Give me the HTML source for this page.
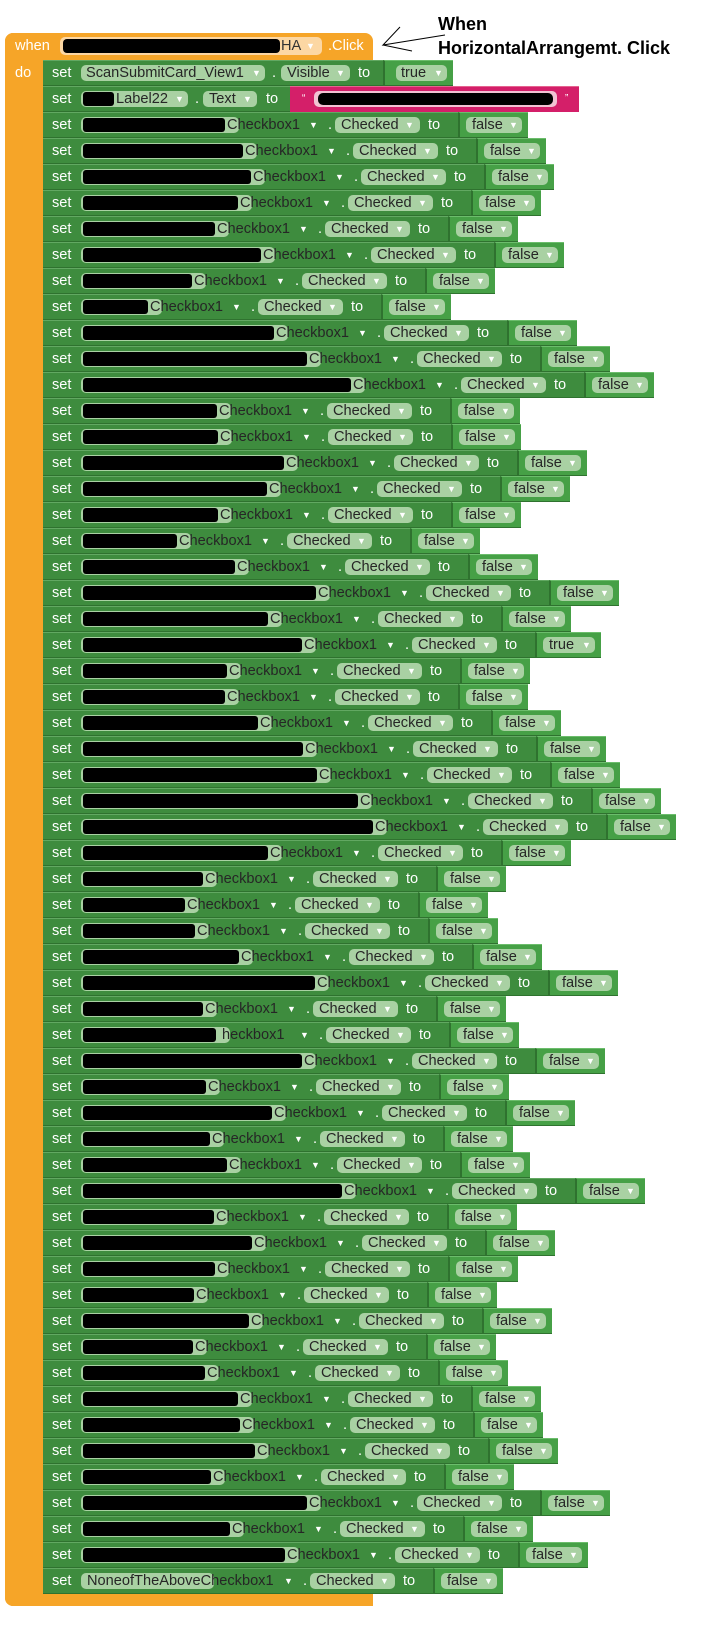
<!DOCTYPE html>
<html><head><meta charset="utf-8"><style>
*{margin:0;padding:0;box-sizing:border-box}
body{width:702px;height:1633px;background:#fff;position:relative;overflow:hidden;font-family:"Liberation Sans",Arial,sans-serif;font-size:14.6px}
.o{position:absolute;background:#f6a528}
.r{position:absolute;left:0;height:26px;width:702px}
.r>*{position:absolute;line-height:26px;top:0;white-space:nowrap;font-style:normal;font-weight:normal}
.g{left:43px;height:26px;background:#3e8c3e;border-top:1px solid #62a862;border-bottom:1px solid #2f722f;width:calc(var(--s) + 192px)}
.st{left:52px;color:#fff}
.p{top:5px!important;height:16px;background:#a9d1a3;border-radius:5px}
.np{left:81px;width:calc(var(--s) - 67px)}
.bk{left:83px;top:6px!important;height:14px;background:#000;border-radius:3px;width:calc(var(--s) - 83px)}
.t{color:#262626}
.a{color:#fff;font-size:9px}
.w{color:#fff}
.cb{left:calc(var(--s) + 2px)}
.ca{left:calc(var(--s) + 84px)}
.d{left:calc(var(--s) + 103px)}
.cp{left:calc(var(--s) + 110px);width:85px}
.ct{left:calc(var(--s) + 116px)}
.cpa{left:calc(var(--s) + 180px)}
.to{left:calc(var(--s) + 203px)}
.v{left:calc(var(--s) + 233px);width:70px;height:26px;background:#46a046;border-top:1px solid #6cbd6c;border-bottom:1px solid #2f722f;border-left:2px solid #2f722f}
.fp{left:calc(var(--s) + 241px);width:56px}
.ft{left:calc(var(--s) + 247px)}
.fa{left:calc(var(--s) + 284px)}
</style></head><body>
<div class="o" style="left:5px;top:33px;width:368px;height:27px;border-radius:8px 8px 0 0"></div>
<div class="o" style="left:5px;top:33px;width:38px;height:1573px;border-radius:8px 0 0 8px"></div>
<div class="o" style="left:5px;top:1594px;width:368px;height:12px;border-radius:0 0 0 8px"></div>
<div style="position:absolute;left:15px;top:33px;line-height:26px;color:#fff">when</div>
<div style="position:absolute;left:15px;top:60px;line-height:26px;color:#fff">do</div>
<div style="position:absolute;left:60px;top:37px;width:262px;height:18px;background:#fcd7a3;border-radius:5px"></div>
<div style="position:absolute;left:63px;top:39px;width:217px;height:14px;background:#000;border-radius:4px"></div>
<div style="position:absolute;left:281px;top:33px;line-height:26px;color:#333">HA</div>
<div style="position:absolute;left:306px;top:33px;line-height:26px;color:#fff;font-size:9px">▼</div>
<div style="position:absolute;left:328px;top:33px;line-height:26px;color:#fff">.Click</div>
<div style="position:absolute;left:438px;top:12px;font-weight:bold;font-size:18px;line-height:24px;color:#000">When<br>HorizontalArrangemt. Click</div>
<svg style="position:absolute;left:0;top:0" width="702" height="70"><path d="M400,27 L383,45 L445,35 M383,45 L412,51" fill="none" stroke="#000" stroke-width="1"/></svg>

<div class="r" style="top:60px;--s:200px"><i class="g" style="width:350px"></i><i class="st">set</i><i class="p" style="left:81px;width:184px"></i><i class="t" style="left:86px">ScanSubmitCard_View1</i><i class="a" style="left:252px">▼</i><i class="w" style="left:272px">.</i><i class="p" style="left:281px;width:69px"></i><i class="t" style="left:287px">Visible</i><i class="a" style="left:336px">▼</i><i class="w" style="left:358px">to</i><i class="v" style="left:383px"></i><i class="p" style="left:396px;width:51px"></i><i class="t" style="left:401px">true</i><i class="a" style="left:434px">▼</i></div>
<div class="r" style="top:86px;--s:114px"><i class="g" style="width:260px"></i><i class="st">set</i><i class="p" style="left:81px;width:107px"></i><i class="bk"></i><i class="t" style="left:116px">Label22</i><i class="a" style="left:175px">▼</i><i class="w" style="left:195px">.</i><i class="p" style="left:203px;width:54px"></i><i class="t" style="left:209px">Text</i><i class="a" style="left:243px">▼</i><i class="w" style="left:266px">to</i><i style="left:290px;width:289px;height:26px;background:#d41f69;border-top:1px solid #e5638f"></i><i class="w" style="left:302px;font-size:10px">“</i><i class="p" style="left:314px;width:243px;background:#f1c3d3"></i><i style="left:318px;top:7px;width:235px;height:12px;background:#000;border-radius:5px"></i><i class="w" style="left:565px;font-size:10px">”</i></div>

<div class="r" style="top:112px;--s:225px"><i class="g"></i><i class="st">set</i><i class="p np"></i><i class="bk"></i><i class="t cb">Checkbox1</i><i class="a ca">▼</i><i class="w d">.</i><i class="p cp"></i><i class="t ct">Checked</i><i class="a cpa">▼</i><i class="w to">to</i><i class="v"></i><i class="p fp"></i><i class="t ft">false</i><i class="a fa">▼</i></div>
<div class="r" style="top:138px;--s:243px"><i class="g"></i><i class="st">set</i><i class="p np"></i><i class="bk"></i><i class="t cb">Checkbox1</i><i class="a ca">▼</i><i class="w d">.</i><i class="p cp"></i><i class="t ct">Checked</i><i class="a cpa">▼</i><i class="w to">to</i><i class="v"></i><i class="p fp"></i><i class="t ft">false</i><i class="a fa">▼</i></div>
<div class="r" style="top:164px;--s:251px"><i class="g"></i><i class="st">set</i><i class="p np"></i><i class="bk"></i><i class="t cb">Checkbox1</i><i class="a ca">▼</i><i class="w d">.</i><i class="p cp"></i><i class="t ct">Checked</i><i class="a cpa">▼</i><i class="w to">to</i><i class="v"></i><i class="p fp"></i><i class="t ft">false</i><i class="a fa">▼</i></div>
<div class="r" style="top:190px;--s:238px"><i class="g"></i><i class="st">set</i><i class="p np"></i><i class="bk"></i><i class="t cb">Checkbox1</i><i class="a ca">▼</i><i class="w d">.</i><i class="p cp"></i><i class="t ct">Checked</i><i class="a cpa">▼</i><i class="w to">to</i><i class="v"></i><i class="p fp"></i><i class="t ft">false</i><i class="a fa">▼</i></div>
<div class="r" style="top:216px;--s:215px"><i class="g"></i><i class="st">set</i><i class="p np"></i><i class="bk"></i><i class="t cb">Checkbox1</i><i class="a ca">▼</i><i class="w d">.</i><i class="p cp"></i><i class="t ct">Checked</i><i class="a cpa">▼</i><i class="w to">to</i><i class="v"></i><i class="p fp"></i><i class="t ft">false</i><i class="a fa">▼</i></div>
<div class="r" style="top:242px;--s:261px"><i class="g"></i><i class="st">set</i><i class="p np"></i><i class="bk"></i><i class="t cb">Checkbox1</i><i class="a ca">▼</i><i class="w d">.</i><i class="p cp"></i><i class="t ct">Checked</i><i class="a cpa">▼</i><i class="w to">to</i><i class="v"></i><i class="p fp"></i><i class="t ft">false</i><i class="a fa">▼</i></div>
<div class="r" style="top:268px;--s:192px"><i class="g"></i><i class="st">set</i><i class="p np"></i><i class="bk"></i><i class="t cb">Checkbox1</i><i class="a ca">▼</i><i class="w d">.</i><i class="p cp"></i><i class="t ct">Checked</i><i class="a cpa">▼</i><i class="w to">to</i><i class="v"></i><i class="p fp"></i><i class="t ft">false</i><i class="a fa">▼</i></div>
<div class="r" style="top:294px;--s:148px"><i class="g"></i><i class="st">set</i><i class="p np"></i><i class="bk"></i><i class="t cb">Checkbox1</i><i class="a ca">▼</i><i class="w d">.</i><i class="p cp"></i><i class="t ct">Checked</i><i class="a cpa">▼</i><i class="w to">to</i><i class="v"></i><i class="p fp"></i><i class="t ft">false</i><i class="a fa">▼</i></div>
<div class="r" style="top:320px;--s:274px"><i class="g"></i><i class="st">set</i><i class="p np"></i><i class="bk"></i><i class="t cb">Checkbox1</i><i class="a ca">▼</i><i class="w d">.</i><i class="p cp"></i><i class="t ct">Checked</i><i class="a cpa">▼</i><i class="w to">to</i><i class="v"></i><i class="p fp"></i><i class="t ft">false</i><i class="a fa">▼</i></div>
<div class="r" style="top:346px;--s:307px"><i class="g"></i><i class="st">set</i><i class="p np"></i><i class="bk"></i><i class="t cb">Checkbox1</i><i class="a ca">▼</i><i class="w d">.</i><i class="p cp"></i><i class="t ct">Checked</i><i class="a cpa">▼</i><i class="w to">to</i><i class="v"></i><i class="p fp"></i><i class="t ft">false</i><i class="a fa">▼</i></div>
<div class="r" style="top:372px;--s:351px"><i class="g"></i><i class="st">set</i><i class="p np"></i><i class="bk"></i><i class="t cb">Checkbox1</i><i class="a ca">▼</i><i class="w d">.</i><i class="p cp"></i><i class="t ct">Checked</i><i class="a cpa">▼</i><i class="w to">to</i><i class="v"></i><i class="p fp"></i><i class="t ft">false</i><i class="a fa">▼</i></div>
<div class="r" style="top:398px;--s:217px"><i class="g"></i><i class="st">set</i><i class="p np"></i><i class="bk"></i><i class="t cb">Checkbox1</i><i class="a ca">▼</i><i class="w d">.</i><i class="p cp"></i><i class="t ct">Checked</i><i class="a cpa">▼</i><i class="w to">to</i><i class="v"></i><i class="p fp"></i><i class="t ft">false</i><i class="a fa">▼</i></div>
<div class="r" style="top:424px;--s:218px"><i class="g"></i><i class="st">set</i><i class="p np"></i><i class="bk"></i><i class="t cb">Checkbox1</i><i class="a ca">▼</i><i class="w d">.</i><i class="p cp"></i><i class="t ct">Checked</i><i class="a cpa">▼</i><i class="w to">to</i><i class="v"></i><i class="p fp"></i><i class="t ft">false</i><i class="a fa">▼</i></div>
<div class="r" style="top:450px;--s:284px"><i class="g"></i><i class="st">set</i><i class="p np"></i><i class="bk"></i><i class="t cb">Checkbox1</i><i class="a ca">▼</i><i class="w d">.</i><i class="p cp"></i><i class="t ct">Checked</i><i class="a cpa">▼</i><i class="w to">to</i><i class="v"></i><i class="p fp"></i><i class="t ft">false</i><i class="a fa">▼</i></div>
<div class="r" style="top:476px;--s:267px"><i class="g"></i><i class="st">set</i><i class="p np"></i><i class="bk"></i><i class="t cb">Checkbox1</i><i class="a ca">▼</i><i class="w d">.</i><i class="p cp"></i><i class="t ct">Checked</i><i class="a cpa">▼</i><i class="w to">to</i><i class="v"></i><i class="p fp"></i><i class="t ft">false</i><i class="a fa">▼</i></div>
<div class="r" style="top:502px;--s:218px"><i class="g"></i><i class="st">set</i><i class="p np"></i><i class="bk"></i><i class="t cb">Checkbox1</i><i class="a ca">▼</i><i class="w d">.</i><i class="p cp"></i><i class="t ct">Checked</i><i class="a cpa">▼</i><i class="w to">to</i><i class="v"></i><i class="p fp"></i><i class="t ft">false</i><i class="a fa">▼</i></div>
<div class="r" style="top:528px;--s:177px"><i class="g"></i><i class="st">set</i><i class="p np"></i><i class="bk"></i><i class="t cb">Checkbox1</i><i class="a ca">▼</i><i class="w d">.</i><i class="p cp"></i><i class="t ct">Checked</i><i class="a cpa">▼</i><i class="w to">to</i><i class="v"></i><i class="p fp"></i><i class="t ft">false</i><i class="a fa">▼</i></div>
<div class="r" style="top:554px;--s:235px"><i class="g"></i><i class="st">set</i><i class="p np"></i><i class="bk"></i><i class="t cb">Checkbox1</i><i class="a ca">▼</i><i class="w d">.</i><i class="p cp"></i><i class="t ct">Checked</i><i class="a cpa">▼</i><i class="w to">to</i><i class="v"></i><i class="p fp"></i><i class="t ft">false</i><i class="a fa">▼</i></div>
<div class="r" style="top:580px;--s:316px"><i class="g"></i><i class="st">set</i><i class="p np"></i><i class="bk"></i><i class="t cb">Checkbox1</i><i class="a ca">▼</i><i class="w d">.</i><i class="p cp"></i><i class="t ct">Checked</i><i class="a cpa">▼</i><i class="w to">to</i><i class="v"></i><i class="p fp"></i><i class="t ft">false</i><i class="a fa">▼</i></div>
<div class="r" style="top:606px;--s:268px"><i class="g"></i><i class="st">set</i><i class="p np"></i><i class="bk"></i><i class="t cb">Checkbox1</i><i class="a ca">▼</i><i class="w d">.</i><i class="p cp"></i><i class="t ct">Checked</i><i class="a cpa">▼</i><i class="w to">to</i><i class="v"></i><i class="p fp"></i><i class="t ft">false</i><i class="a fa">▼</i></div>
<div class="r" style="top:632px;--s:302px"><i class="g"></i><i class="st">set</i><i class="p np"></i><i class="bk"></i><i class="t cb">Checkbox1</i><i class="a ca">▼</i><i class="w d">.</i><i class="p cp"></i><i class="t ct">Checked</i><i class="a cpa">▼</i><i class="w to">to</i><i class="v" style="width:66px"></i><i class="p fp" style="width:52px"></i><i class="t ft">true</i><i class="a fa" style="left:calc(var(--s) + 280px)">▼</i></div>
<div class="r" style="top:658px;--s:227px"><i class="g"></i><i class="st">set</i><i class="p np"></i><i class="bk"></i><i class="t cb">Checkbox1</i><i class="a ca">▼</i><i class="w d">.</i><i class="p cp"></i><i class="t ct">Checked</i><i class="a cpa">▼</i><i class="w to">to</i><i class="v"></i><i class="p fp"></i><i class="t ft">false</i><i class="a fa">▼</i></div>
<div class="r" style="top:684px;--s:225px"><i class="g"></i><i class="st">set</i><i class="p np"></i><i class="bk"></i><i class="t cb">Checkbox1</i><i class="a ca">▼</i><i class="w d">.</i><i class="p cp"></i><i class="t ct">Checked</i><i class="a cpa">▼</i><i class="w to">to</i><i class="v"></i><i class="p fp"></i><i class="t ft">false</i><i class="a fa">▼</i></div>
<div class="r" style="top:710px;--s:258px"><i class="g"></i><i class="st">set</i><i class="p np"></i><i class="bk"></i><i class="t cb">Checkbox1</i><i class="a ca">▼</i><i class="w d">.</i><i class="p cp"></i><i class="t ct">Checked</i><i class="a cpa">▼</i><i class="w to">to</i><i class="v"></i><i class="p fp"></i><i class="t ft">false</i><i class="a fa">▼</i></div>
<div class="r" style="top:736px;--s:303px"><i class="g"></i><i class="st">set</i><i class="p np"></i><i class="bk"></i><i class="t cb">Checkbox1</i><i class="a ca">▼</i><i class="w d">.</i><i class="p cp"></i><i class="t ct">Checked</i><i class="a cpa">▼</i><i class="w to">to</i><i class="v"></i><i class="p fp"></i><i class="t ft">false</i><i class="a fa">▼</i></div>
<div class="r" style="top:762px;--s:317px"><i class="g"></i><i class="st">set</i><i class="p np"></i><i class="bk"></i><i class="t cb">Checkbox1</i><i class="a ca">▼</i><i class="w d">.</i><i class="p cp"></i><i class="t ct">Checked</i><i class="a cpa">▼</i><i class="w to">to</i><i class="v"></i><i class="p fp"></i><i class="t ft">false</i><i class="a fa">▼</i></div>
<div class="r" style="top:788px;--s:358px"><i class="g"></i><i class="st">set</i><i class="p np"></i><i class="bk"></i><i class="t cb">Checkbox1</i><i class="a ca">▼</i><i class="w d">.</i><i class="p cp"></i><i class="t ct">Checked</i><i class="a cpa">▼</i><i class="w to">to</i><i class="v"></i><i class="p fp"></i><i class="t ft">false</i><i class="a fa">▼</i></div>
<div class="r" style="top:814px;--s:373px"><i class="g"></i><i class="st">set</i><i class="p np"></i><i class="bk"></i><i class="t cb">Checkbox1</i><i class="a ca">▼</i><i class="w d">.</i><i class="p cp"></i><i class="t ct">Checked</i><i class="a cpa">▼</i><i class="w to">to</i><i class="v"></i><i class="p fp"></i><i class="t ft">false</i><i class="a fa">▼</i></div>
<div class="r" style="top:840px;--s:268px"><i class="g"></i><i class="st">set</i><i class="p np"></i><i class="bk"></i><i class="t cb">Checkbox1</i><i class="a ca">▼</i><i class="w d">.</i><i class="p cp"></i><i class="t ct">Checked</i><i class="a cpa">▼</i><i class="w to">to</i><i class="v"></i><i class="p fp"></i><i class="t ft">false</i><i class="a fa">▼</i></div>
<div class="r" style="top:866px;--s:203px"><i class="g"></i><i class="st">set</i><i class="p np"></i><i class="bk"></i><i class="t cb">Checkbox1</i><i class="a ca">▼</i><i class="w d">.</i><i class="p cp"></i><i class="t ct">Checked</i><i class="a cpa">▼</i><i class="w to">to</i><i class="v"></i><i class="p fp"></i><i class="t ft">false</i><i class="a fa">▼</i></div>
<div class="r" style="top:892px;--s:185px"><i class="g"></i><i class="st">set</i><i class="p np"></i><i class="bk"></i><i class="t cb">Checkbox1</i><i class="a ca">▼</i><i class="w d">.</i><i class="p cp"></i><i class="t ct">Checked</i><i class="a cpa">▼</i><i class="w to">to</i><i class="v"></i><i class="p fp"></i><i class="t ft">false</i><i class="a fa">▼</i></div>
<div class="r" style="top:918px;--s:195px"><i class="g"></i><i class="st">set</i><i class="p np"></i><i class="bk"></i><i class="t cb">Checkbox1</i><i class="a ca">▼</i><i class="w d">.</i><i class="p cp"></i><i class="t ct">Checked</i><i class="a cpa">▼</i><i class="w to">to</i><i class="v"></i><i class="p fp"></i><i class="t ft">false</i><i class="a fa">▼</i></div>
<div class="r" style="top:944px;--s:239px"><i class="g"></i><i class="st">set</i><i class="p np"></i><i class="bk"></i><i class="t cb">Checkbox1</i><i class="a ca">▼</i><i class="w d">.</i><i class="p cp"></i><i class="t ct">Checked</i><i class="a cpa">▼</i><i class="w to">to</i><i class="v"></i><i class="p fp"></i><i class="t ft">false</i><i class="a fa">▼</i></div>
<div class="r" style="top:970px;--s:315px"><i class="g"></i><i class="st">set</i><i class="p np"></i><i class="bk"></i><i class="t cb">Checkbox1</i><i class="a ca">▼</i><i class="w d">.</i><i class="p cp"></i><i class="t ct">Checked</i><i class="a cpa">▼</i><i class="w to">to</i><i class="v"></i><i class="p fp"></i><i class="t ft">false</i><i class="a fa">▼</i></div>
<div class="r" style="top:996px;--s:203px"><i class="g"></i><i class="st">set</i><i class="p np"></i><i class="bk"></i><i class="t cb">Checkbox1</i><i class="a ca">▼</i><i class="w d">.</i><i class="p cp"></i><i class="t ct">Checked</i><i class="a cpa">▼</i><i class="w to">to</i><i class="v"></i><i class="p fp"></i><i class="t ft">false</i><i class="a fa">▼</i></div>
<div class="r" style="top:1022px;--s:216px"><i class="g"></i><i class="st">set</i><i class="p np"></i><i class="bk"></i><i class="t cb">&nbsp;heckbox1</i><i class="a ca">▼</i><i class="w d">.</i><i class="p cp"></i><i class="t ct">Checked</i><i class="a cpa">▼</i><i class="w to">to</i><i class="v"></i><i class="p fp"></i><i class="t ft">false</i><i class="a fa">▼</i></div>
<div class="r" style="top:1048px;--s:302px"><i class="g"></i><i class="st">set</i><i class="p np"></i><i class="bk"></i><i class="t cb">Checkbox1</i><i class="a ca">▼</i><i class="w d">.</i><i class="p cp"></i><i class="t ct">Checked</i><i class="a cpa">▼</i><i class="w to">to</i><i class="v"></i><i class="p fp"></i><i class="t ft">false</i><i class="a fa">▼</i></div>
<div class="r" style="top:1074px;--s:206px"><i class="g"></i><i class="st">set</i><i class="p np"></i><i class="bk"></i><i class="t cb">Checkbox1</i><i class="a ca">▼</i><i class="w d">.</i><i class="p cp"></i><i class="t ct">Checked</i><i class="a cpa">▼</i><i class="w to">to</i><i class="v"></i><i class="p fp"></i><i class="t ft">false</i><i class="a fa">▼</i></div>
<div class="r" style="top:1100px;--s:272px"><i class="g"></i><i class="st">set</i><i class="p np"></i><i class="bk"></i><i class="t cb">Checkbox1</i><i class="a ca">▼</i><i class="w d">.</i><i class="p cp"></i><i class="t ct">Checked</i><i class="a cpa">▼</i><i class="w to">to</i><i class="v"></i><i class="p fp"></i><i class="t ft">false</i><i class="a fa">▼</i></div>
<div class="r" style="top:1126px;--s:210px"><i class="g"></i><i class="st">set</i><i class="p np"></i><i class="bk"></i><i class="t cb">Checkbox1</i><i class="a ca">▼</i><i class="w d">.</i><i class="p cp"></i><i class="t ct">Checked</i><i class="a cpa">▼</i><i class="w to">to</i><i class="v"></i><i class="p fp"></i><i class="t ft">false</i><i class="a fa">▼</i></div>
<div class="r" style="top:1152px;--s:227px"><i class="g"></i><i class="st">set</i><i class="p np"></i><i class="bk"></i><i class="t cb">Checkbox1</i><i class="a ca">▼</i><i class="w d">.</i><i class="p cp"></i><i class="t ct">Checked</i><i class="a cpa">▼</i><i class="w to">to</i><i class="v"></i><i class="p fp"></i><i class="t ft">false</i><i class="a fa">▼</i></div>
<div class="r" style="top:1178px;--s:342px"><i class="g"></i><i class="st">set</i><i class="p np"></i><i class="bk"></i><i class="t cb">Checkbox1</i><i class="a ca">▼</i><i class="w d">.</i><i class="p cp"></i><i class="t ct">Checked</i><i class="a cpa">▼</i><i class="w to">to</i><i class="v"></i><i class="p fp"></i><i class="t ft">false</i><i class="a fa">▼</i></div>
<div class="r" style="top:1204px;--s:214px"><i class="g"></i><i class="st">set</i><i class="p np"></i><i class="bk"></i><i class="t cb">Checkbox1</i><i class="a ca">▼</i><i class="w d">.</i><i class="p cp"></i><i class="t ct">Checked</i><i class="a cpa">▼</i><i class="w to">to</i><i class="v"></i><i class="p fp"></i><i class="t ft">false</i><i class="a fa">▼</i></div>
<div class="r" style="top:1230px;--s:252px"><i class="g"></i><i class="st">set</i><i class="p np"></i><i class="bk"></i><i class="t cb">Checkbox1</i><i class="a ca">▼</i><i class="w d">.</i><i class="p cp"></i><i class="t ct">Checked</i><i class="a cpa">▼</i><i class="w to">to</i><i class="v"></i><i class="p fp"></i><i class="t ft">false</i><i class="a fa">▼</i></div>
<div class="r" style="top:1256px;--s:215px"><i class="g"></i><i class="st">set</i><i class="p np"></i><i class="bk"></i><i class="t cb">Checkbox1</i><i class="a ca">▼</i><i class="w d">.</i><i class="p cp"></i><i class="t ct">Checked</i><i class="a cpa">▼</i><i class="w to">to</i><i class="v"></i><i class="p fp"></i><i class="t ft">false</i><i class="a fa">▼</i></div>
<div class="r" style="top:1282px;--s:194px"><i class="g"></i><i class="st">set</i><i class="p np"></i><i class="bk"></i><i class="t cb">Checkbox1</i><i class="a ca">▼</i><i class="w d">.</i><i class="p cp"></i><i class="t ct">Checked</i><i class="a cpa">▼</i><i class="w to">to</i><i class="v"></i><i class="p fp"></i><i class="t ft">false</i><i class="a fa">▼</i></div>
<div class="r" style="top:1308px;--s:249px"><i class="g"></i><i class="st">set</i><i class="p np"></i><i class="bk"></i><i class="t cb">Checkbox1</i><i class="a ca">▼</i><i class="w d">.</i><i class="p cp"></i><i class="t ct">Checked</i><i class="a cpa">▼</i><i class="w to">to</i><i class="v"></i><i class="p fp"></i><i class="t ft">false</i><i class="a fa">▼</i></div>
<div class="r" style="top:1334px;--s:193px"><i class="g"></i><i class="st">set</i><i class="p np"></i><i class="bk"></i><i class="t cb">Checkbox1</i><i class="a ca">▼</i><i class="w d">.</i><i class="p cp"></i><i class="t ct">Checked</i><i class="a cpa">▼</i><i class="w to">to</i><i class="v"></i><i class="p fp"></i><i class="t ft">false</i><i class="a fa">▼</i></div>
<div class="r" style="top:1360px;--s:205px"><i class="g"></i><i class="st">set</i><i class="p np"></i><i class="bk"></i><i class="t cb">Checkbox1</i><i class="a ca">▼</i><i class="w d">.</i><i class="p cp"></i><i class="t ct">Checked</i><i class="a cpa">▼</i><i class="w to">to</i><i class="v"></i><i class="p fp"></i><i class="t ft">false</i><i class="a fa">▼</i></div>
<div class="r" style="top:1386px;--s:238px"><i class="g"></i><i class="st">set</i><i class="p np"></i><i class="bk"></i><i class="t cb">Checkbox1</i><i class="a ca">▼</i><i class="w d">.</i><i class="p cp"></i><i class="t ct">Checked</i><i class="a cpa">▼</i><i class="w to">to</i><i class="v"></i><i class="p fp"></i><i class="t ft">false</i><i class="a fa">▼</i></div>
<div class="r" style="top:1412px;--s:240px"><i class="g"></i><i class="st">set</i><i class="p np"></i><i class="bk"></i><i class="t cb">Checkbox1</i><i class="a ca">▼</i><i class="w d">.</i><i class="p cp"></i><i class="t ct">Checked</i><i class="a cpa">▼</i><i class="w to">to</i><i class="v"></i><i class="p fp"></i><i class="t ft">false</i><i class="a fa">▼</i></div>
<div class="r" style="top:1438px;--s:255px"><i class="g"></i><i class="st">set</i><i class="p np"></i><i class="bk"></i><i class="t cb">Checkbox1</i><i class="a ca">▼</i><i class="w d">.</i><i class="p cp"></i><i class="t ct">Checked</i><i class="a cpa">▼</i><i class="w to">to</i><i class="v"></i><i class="p fp"></i><i class="t ft">false</i><i class="a fa">▼</i></div>
<div class="r" style="top:1464px;--s:211px"><i class="g"></i><i class="st">set</i><i class="p np"></i><i class="bk"></i><i class="t cb">Checkbox1</i><i class="a ca">▼</i><i class="w d">.</i><i class="p cp"></i><i class="t ct">Checked</i><i class="a cpa">▼</i><i class="w to">to</i><i class="v"></i><i class="p fp"></i><i class="t ft">false</i><i class="a fa">▼</i></div>
<div class="r" style="top:1490px;--s:307px"><i class="g"></i><i class="st">set</i><i class="p np"></i><i class="bk"></i><i class="t cb">Checkbox1</i><i class="a ca">▼</i><i class="w d">.</i><i class="p cp"></i><i class="t ct">Checked</i><i class="a cpa">▼</i><i class="w to">to</i><i class="v"></i><i class="p fp"></i><i class="t ft">false</i><i class="a fa">▼</i></div>
<div class="r" style="top:1516px;--s:230px"><i class="g"></i><i class="st">set</i><i class="p np"></i><i class="bk"></i><i class="t cb">Checkbox1</i><i class="a ca">▼</i><i class="w d">.</i><i class="p cp"></i><i class="t ct">Checked</i><i class="a cpa">▼</i><i class="w to">to</i><i class="v"></i><i class="p fp"></i><i class="t ft">false</i><i class="a fa">▼</i></div>
<div class="r" style="top:1542px;--s:285px"><i class="g"></i><i class="st">set</i><i class="p np"></i><i class="bk"></i><i class="t cb">Checkbox1</i><i class="a ca">▼</i><i class="w d">.</i><i class="p cp"></i><i class="t ct">Checked</i><i class="a cpa">▼</i><i class="w to">to</i><i class="v"></i><i class="p fp"></i><i class="t ft">false</i><i class="a fa">▼</i></div>
<div class="r" style="top:1568px;--s:200px"><i class="g"></i><i class="st">set</i><i class="p np"></i><i class="t" style="left:87px">NoneofTheAboveCheckbox1</i><i class="a ca">▼</i><i class="w d">.</i><i class="p cp"></i><i class="t ct">Checked</i><i class="a cpa">▼</i><i class="w to">to</i><i class="v"></i><i class="p fp"></i><i class="t ft">false</i><i class="a fa">▼</i></div>
</body></html>
